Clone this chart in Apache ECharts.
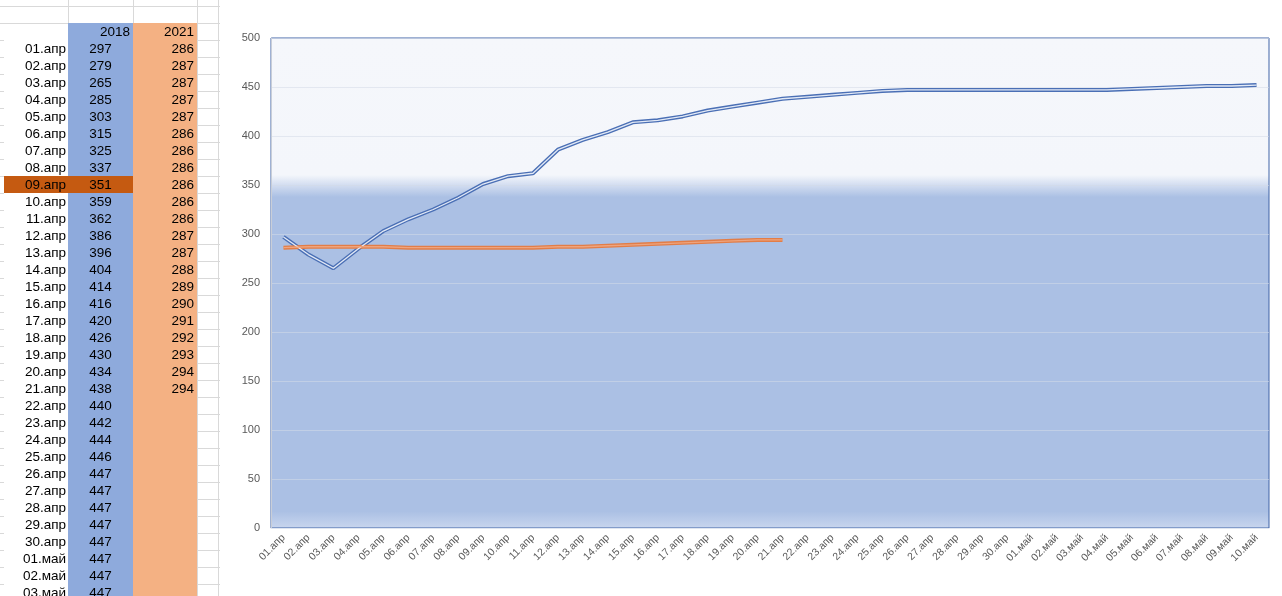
<!DOCTYPE html>
<html>
<head>
<meta charset="utf-8">
<script src="https://cdn.jsdelivr.net/npm/echarts@6/dist/echarts.min.js"></script>
<style>
  html, body { margin: 0; padding: 0; background: #fff; overflow: hidden; }
  #wrap { position: relative; width: 1282px; height: 596px; overflow: hidden; }
  #chart { position: absolute; left: 0; top: 0; width: 1282px; height: 596px; }
  #sheet { position: absolute; left: 0; top: 0; width: 220px; height: 596px; font-family: "Liberation Sans", Arial, sans-serif; font-size: 13.5px; color: #000; }
  .abs { position: absolute; }
</style>
</head>
<body>
<div id="wrap">
  <div id="chart"></div>
  <div id="sheet"></div>
</div>
<script>
// ---- data ----
const categories = [
  '01.апр','02.апр','03.апр','04.апр','05.апр','06.апр','07.апр','08.апр','09.апр','10.апр',
  '11.апр','12.апр','13.апр','14.апр','15.апр','16.апр','17.апр','18.апр','19.апр','20.апр',
  '21.апр','22.апр','23.апр','24.апр','25.апр','26.апр','27.апр','28.апр','29.апр','30.апр',
  '01.май','02.май','03.май','04.май','05.май','06.май','07.май','08.май','09.май','10.май'
];
const values2018 = [
  297,279,265,285,303,315,325,337,351,359,
  362,386,396,404,414,416,420,426,430,434,
  438,440,442,444,446,447,447,447,447,447,
  447,447,447,447,448,449,450,451,451,452
];
const values2021 = [
  286,287,287,287,287,286,286,286,286,286,
  286,287,287,288,289,290,291,292,293,294,
  294
];
const seriesNames = ['2018', '2021'];
const tableRows = 33;        // rows visible in the sheet
const highlightRow = 8;      // 09.апр

// ---- sheet (left table) ----
const sheet = document.getElementById('sheet');
function box(l, t, w, h, css) {
  const d = document.createElement('div');
  d.className = 'abs';
  d.style.left = l + 'px'; d.style.top = t + 'px';
  d.style.width = w + 'px'; d.style.height = h + 'px';
  Object.assign(d.style, css || {});
  sheet.appendChild(d);
  return d;
}
function text(str, l, t, w, align) {
  const d = box(l, t, w, 17, { lineHeight: '17px', textAlign: align, whiteSpace: 'nowrap' });
  d.textContent = str;
}
const rowH = 17, headTop = 22.5;
// gridlines
const gl = '#d9d9d9';
for (let y = 5.5; y < 600; y += rowH) {
  box(197, y, 23, 1, { background: gl });
  box(0, y, 4, 1, { background: gl });
}
box(0, 5.5, 220, 1, { background: gl });
box(0, 22.5, 220, 1, { background: gl });
box(68, 0, 1, 23, { background: gl });
box(133, 0, 1, 23, { background: gl });
box(197, 0, 1, 600, { background: gl });
box(218, 0, 1, 600, { background: gl });
// colored columns
box(68, headTop, 65, 600, { background: '#8eaadc' });
box(133, headTop, 64, 600, { background: '#f4b183' });
// highlight row
box(4, headTop + rowH * (highlightRow + 1), 129, rowH, { background: '#c55a11' });
// header
text(seriesNames[0], 68, headTop, 62, 'right');
text(seriesNames[1], 133, headTop, 61, 'right');
for (let i = 0; i < tableRows; i++) {
  const t = headTop + rowH * (i + 1);
  text(categories[i], 0, t, 66, 'right');
  text(String(values2018[i]), 68, t, 65, 'center');
  if (i < values2021.length) text(String(values2021[i]), 133, t, 61, 'right');
}

// ---- chart ----
const chart = echarts.init(document.getElementById('chart'), null, { renderer: 'canvas' });
chart.setOption({
  animation: false,
  grid: {
    left: 271, right: 13, top: 38, bottom: 68,
    show: true,
    borderColor: '#3f63a6',
    borderWidth: 1,
    backgroundColor: new echarts.graphic.LinearGradient(0, 0, 0, 1, [
      { offset: 0, color: '#f5f7fb' },
      { offset: 0.28, color: '#f4f6fb' },
      { offset: 0.325, color: '#abc0e4' },
      { offset: 0.965, color: '#abc0e4' },
      { offset: 1, color: '#c9d6ee' }
    ])
  },
  xAxis: {
    type: 'category',
    data: categories,
    boundaryGap: true,
    axisLine: { show: true, lineStyle: { color: '#dfe5f0', width: 1 } },
    axisTick: { show: false },
    axisLabel: {
      interval: 0, rotate: 45, color: '#595959', fontSize: 10.5,
      fontFamily: '"Liberation Sans", Arial, sans-serif', margin: 8
    },
    splitLine: { show: false }
  },
  yAxis: {
    type: 'value',
    min: 0, max: 500, interval: 50,
    axisLine: { show: true, lineStyle: { color: '#c9ced8' } },
    axisTick: { show: false },
    axisLabel: {
      color: '#595959', fontSize: 11, margin: 11,
      fontFamily: '"Liberation Sans", Arial, sans-serif'
    },
    splitLine: { show: true, lineStyle: { color: 'rgba(212,219,232,0.55)', width: 1 } }
  },
  series: [
    { name: seriesNames[0], type: 'line', data: values2018, symbol: 'none', z: 3,
      lineStyle: { color: '#4a6fb5', width: 4 } },
    { name: seriesNames[0] + ' inner', type: 'line', data: values2018, symbol: 'none', z: 4,
      lineStyle: { color: '#e2e9f6', width: 1.3 } },
    { name: seriesNames[1], type: 'line', data: values2021, symbol: 'none', z: 3,
      lineStyle: { color: '#e27d47', width: 4 } },
    { name: seriesNames[1] + ' inner', type: 'line', data: values2021, symbol: 'none', z: 4,
      lineStyle: { color: '#eea47e', width: 1.3 } }
  ]
});
</script>
</body>
</html>
